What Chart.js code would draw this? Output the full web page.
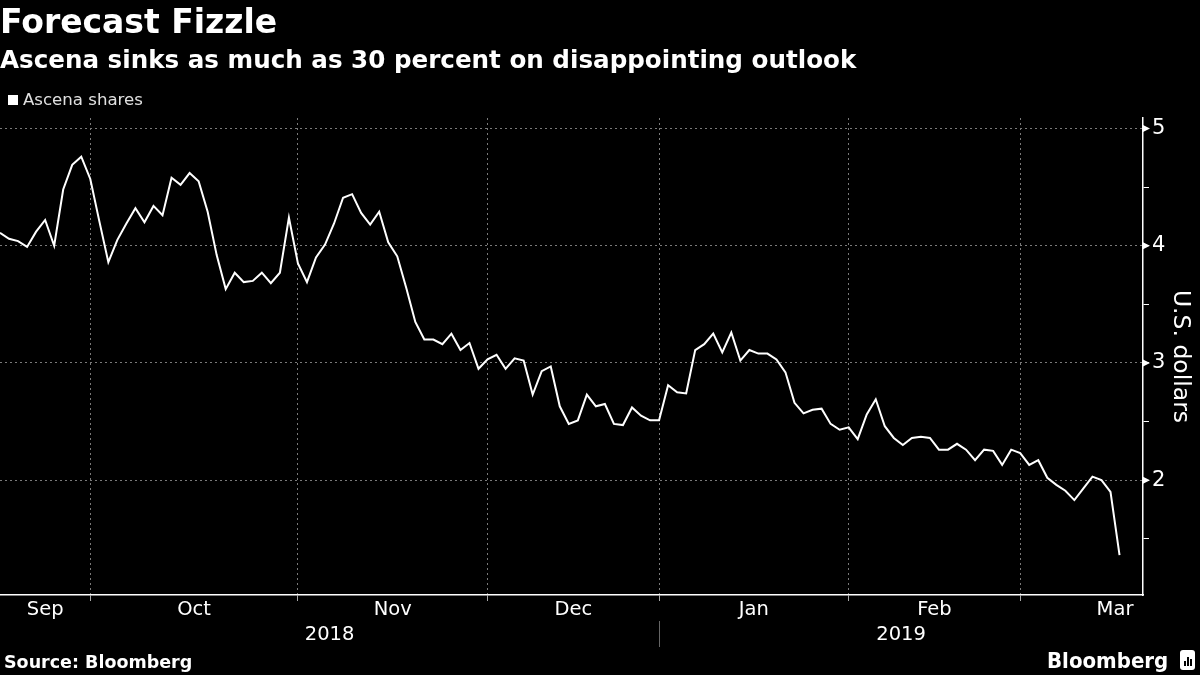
<!DOCTYPE html>
<html>
<head>
<meta charset="utf-8">
<script src="https://cdn.jsdelivr.net/npm/chart.js@4.4.0/dist/chart.umd.min.js"></script>
<style>
  html, body { margin: 0; padding: 0; background: #000; }
  body { width: 1200px; height: 675px; position: relative; overflow: hidden; font-family: "DejaVu Sans", sans-serif; color: #fff; }
  #chartBox { position: absolute; left: 0; top: 0; width: 1200px; height: 675px; }
  .title { position: absolute; left: 0; top: 3px; font-weight: bold; font-size: 33px; line-height: 38px; white-space: nowrap; }
  .subtitle { position: absolute; left: 0; top: 45px; font-weight: bold; font-size: 24.6px; line-height: 30px; white-space: nowrap; }
  .legend { position: absolute; left: 8px; top: 90px; font-size: 16.6px; line-height: 20px; color: #e0e0e0; white-space: nowrap; }
  .legend i { display: inline-block; width: 10px; height: 10px; background: #fff; margin-right: 5px; vertical-align: 0px; }
  .source { position: absolute; left: 4px; top: 651px; font-weight: bold; font-size: 17.5px; line-height: 22px; }
  .logo { position: absolute; left: 1047px; top: 647px; font-weight: bold; font-size: 22px; line-height: 28px; transform: scaleX(0.9); transform-origin: left center; }
  .icon { position: absolute; left: 1180px; top: 650px; width: 15px; height: 20px; background: #fff; border-radius: 3px; }
  .icon b { position: absolute; bottom: 4px; width: 2px; background: #000; }
</style>
</head>
<body>
<div id="chartBox"><canvas id="sharesChart" width="1200" height="675"></canvas></div>
<div class="title">Forecast Fizzle</div>
<div class="subtitle">Ascena sinks as much as 30 percent on disappointing outlook</div>
<div class="legend"><i></i>Ascena shares</div>
<div class="source">Source: Bloomberg</div>
<div class="logo">Bloomberg</div>
<div class="icon"><b style="left:4px;height:5px"></b><b style="left:7px;height:9px"></b><b style="left:10px;height:7px"></b></div>

<script>
// Ascena daily close, mid-Sep 2018 to mid-Mar 2019
const prices = [
    4.11, 4.06, 4.04, 3.99, 4.12, 4.22, 4.00, 4.48, 4.69, 4.76,             // Sep
    4.57, 4.21, 3.86, 4.05, 4.19, 4.32, 4.20, 4.34, 4.26, 4.58, 4.52, 4.62,
    4.55, 4.29, 3.92, 3.63, 3.77, 3.69, 3.70, 3.77, 3.68, 3.77, 4.24,       // Oct
    3.85, 3.69, 3.90, 4.01, 4.19, 4.41, 4.44, 4.28, 4.18, 4.29, 4.03,
    3.91, 3.64, 3.35, 3.20, 3.20, 3.16, 3.25, 3.11, 3.17, 2.95,             // Nov
    3.03, 3.07, 2.95, 3.04, 3.02, 2.73, 2.93, 2.97, 2.63, 2.48,
    2.51, 2.73, 2.63, 2.65, 2.48, 2.47, 2.62, 2.55, 2.51,                   // Dec
    2.51, 2.81, 2.75, 2.74, 3.11, 3.16, 3.25, 3.09, 3.26, 3.02, 3.11,
    3.08, 3.08, 3.03, 2.92, 2.66, 2.57, 2.60, 2.61, 2.48, 2.43,             // Jan
    2.45, 2.35, 2.56, 2.69, 2.46, 2.36, 2.30, 2.36, 2.37, 2.36,
    2.26, 2.26, 2.31, 2.26, 2.17, 2.26, 2.25, 2.13, 2.26,                   // Feb
    2.23, 2.13, 2.17, 2.02, 1.96, 1.91, 1.83, 1.93, 2.03, 2.00, 1.90, 1.36  // Mar
];

// month names and the trading-day index where each one starts (last = end of March)
const monthNames = ['Sep', 'Oct', 'Nov', 'Dec', 'Jan', 'Feb', 'Mar'];
const monthStarts = [0, 10, 33, 54, 73, 94, 113, 134];
const yearNames = ['2018', '2019'];
const yearStarts = [0, 73];
const yTicks = [1.5, 2, 2.5, 3, 3.5, 4, 4.5, 5];
const xMax = 126.6;

const gridColor = '#7a7a7a';

// month + year labels under the axis, and the arrow marks on the price axis
const axisExtras = {
    id: 'axisExtras',
    afterDraw(chart) {
        const ctx = chart.ctx;
        const xs = chart.scales.x;
        const ys = chart.scales.y;
        const bottom = chart.chartArea.bottom;
        ctx.save();
        ctx.fillStyle = '#fff';
        ctx.textAlign = 'center';
        ctx.textBaseline = 'middle';
        ctx.font = '19.5px "DejaVu Sans"';
        for (let i = 0; i < monthNames.length; i++) {
            const mid = (monthStarts[i] + monthStarts[i + 1]) / 2;
            ctx.fillText(monthNames[i], xs.getPixelForValue(mid), bottom + 15);
        }
        for (let i = 0; i < yearNames.length; i++) {
            const end = i + 1 < yearStarts.length ? yearStarts[i + 1] : xMax;
            const mid = (yearStarts[i] + end) / 2;
            ctx.fillText(yearNames[i], xs.getPixelForValue(mid), bottom + 40);
        }
        // divider between years
        const sep = Math.round(xs.getPixelForValue(yearStarts[1])) + 0.5;
        ctx.strokeStyle = '#666';
        ctx.lineWidth = 1;
        ctx.beginPath();
        ctx.moveTo(sep, bottom + 26);
        ctx.lineTo(sep, bottom + 52);
        ctx.stroke();
        // little arrows at whole dollars
        const ax = chart.chartArea.right;
        yTicks.filter(v => v % 1 === 0).forEach(v => {
            const py = ys.getPixelForValue(v);
            ctx.beginPath();
            ctx.moveTo(ax, py - 3.5);
            ctx.lineTo(ax + 7, py);
            ctx.lineTo(ax, py + 3.5);
            ctx.closePath();
            ctx.fill();
        });
        ctx.restore();
    }
};

const sharesChart = new Chart(document.getElementById('sharesChart'), {
    type: 'line',
    data: {
        datasets: [{
            label: 'Ascena shares',
            data: prices.map((p, i) => ({ x: i, y: p })),
            borderColor: '#fff',
            borderWidth: 2,
            pointRadius: 0,
            tension: 0,
            fill: false
        }]
    },
    options: {
        responsive: false,
        animation: false,
        layout: { padding: { top: 118, left: 0, right: 0, bottom: 0 } },
        plugins: {
            legend: { display: false },
            tooltip: { enabled: false }
        },
        scales: {
            x: {
                type: 'linear',
                min: 0,
                max: xMax,
                afterBuildTicks: scale => {
                    scale.ticks = monthStarts.slice(1, -1).map(v => ({ value: v }));
                },
                afterFit: scale => { scale.height = 80; },
                ticks: { display: false },
                grid: {
                    color: gridColor,
                    tickColor: '#aaa',
                    tickLength: 6,
                    lineWidth: 1
                },
                border: { display: true, color: '#fff', width: 1.5, dash: [2, 3] }
            },
            y: {
                position: 'right',
                min: 1.02,
                max: 5.09,
                afterBuildTicks: scale => {
                    scale.ticks = yTicks.map(v => ({ value: v }));
                },
                afterFit: scale => { scale.width = 57; },
                ticks: {
                    color: '#fff',
                    font: { family: 'DejaVu Sans', size: 21 },
                    padding: 3,
                    callback: v => (v % 1 === 0 ? String(v) : '')
                },
                grid: {
                    color: c => (c.tick && c.tick.value % 1 === 0 ? gridColor : 'rgba(0,0,0,0)'),
                    tickColor: '#fff',
                    tickLength: 6,
                    lineWidth: 1
                },
                border: { display: true, color: '#fff', width: 1.5, dash: [2, 3] },
                title: {
                    display: true,
                    text: 'U.S. dollars',
                    color: '#fff',
                    font: { family: 'DejaVu Sans', size: 23.5 },
                    padding: { top: 6, bottom: 0 }
                }
            }
        }
    },
    plugins: [axisExtras]
});
</script>
</body>
</html>
